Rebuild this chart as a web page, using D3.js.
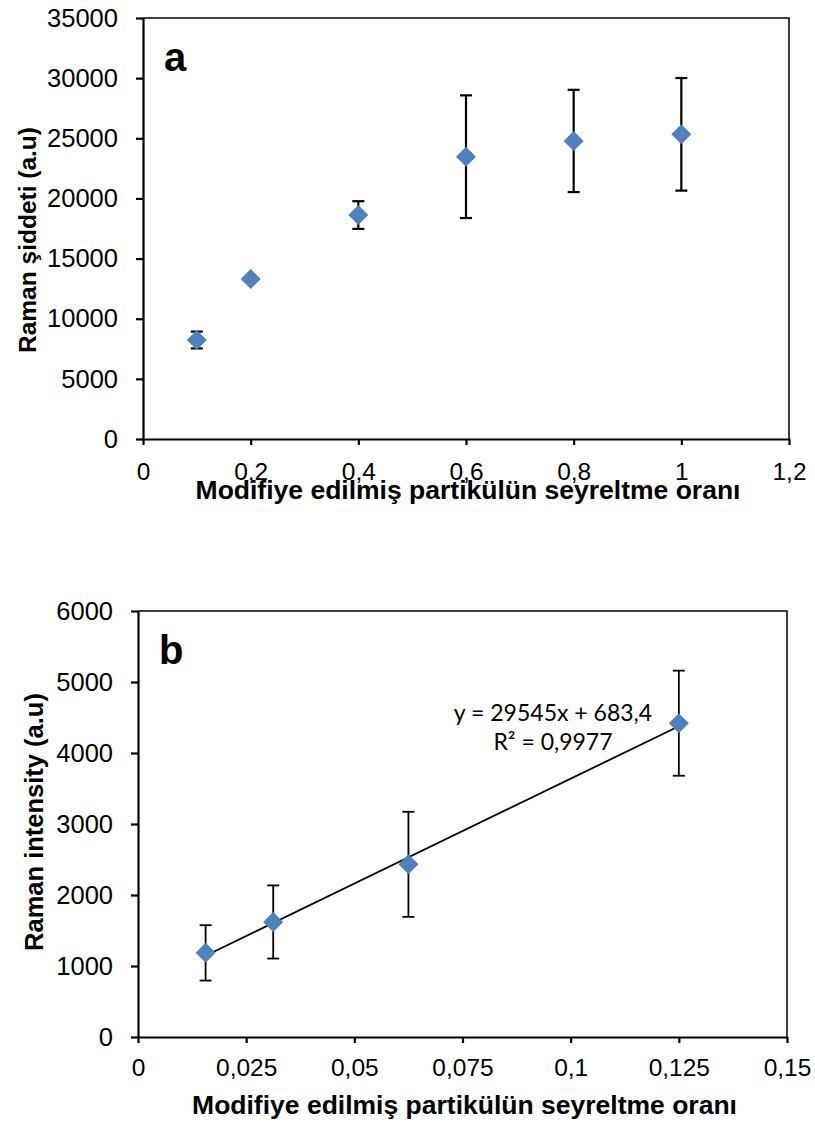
<!DOCTYPE html>
<html>
<head>
<meta charset="utf-8">
<script src="https://cdn.jsdelivr.net/npm/d3@7"></script>
<style>
  body { margin: 0; background: #fff; }
  svg text { font-family: "Liberation Sans", Arial, sans-serif; }
</style>
</head>
<body>
<svg id="chart" width="815" height="1124"></svg>
<script>
// Panel a data
const dilutionA = [0.1, 0.2, 0.4, 0.6, 0.8, 1.0];
const ramanA = [8230, 13300, 18620, 23470, 24780, 25330];
const errA = [700, 0, 1150, 5100, 4250, 4680];
const xTicksA = [0, 0.2, 0.4, 0.6, 0.8, 1.0, 1.2];
const yTicksA = [0, 5000, 10000, 15000, 20000, 25000, 30000, 35000];

// Panel b data
const dilutionB = [0.015625, 0.03125, 0.0625, 0.125];
const ramanB = [1185, 1620, 2432, 4420];
const errB = [390, 515, 740, 740];
const xTicksB = [0, 0.025, 0.05, 0.075, 0.1, 0.125, 0.15];
const yTicksB = [0, 1000, 2000, 3000, 4000, 5000, 6000];
const trendB = {slope: 29545, intercept: 683.4};

const trLocale = d3.formatLocale({decimal: ",", thousands: "", grouping: [3], currency: ["", ""]});
const fmtNum = d => trLocale.format("")(+d.toFixed(4));

const svg = d3.select('#chart');
const markerColor = '#4F81BD';

function drawPanel(cfg) {
    const x = d3.scaleLinear().domain(cfg.xDomain).range([cfg.left, cfg.right]);
    const y = d3.scaleLinear().domain(cfg.yDomain).range([cfg.bottom, cfg.top]);
    const g = svg.append('g');

    // Frame (top and right)
    g.append('path')
        .attr('d', `M${cfg.left},${cfg.top}H${cfg.right}V${cfg.bottom}`)
        .attr('fill', 'none').attr('stroke', '#000').attr('stroke-width', 1.5);

    // Axes
    const xAxis = g.append('g')
        .attr('transform', `translate(0,${cfg.bottom})`)
        .call(d3.axisBottom(x).tickValues(cfg.xTicks).tickFormat(fmtNum).tickSize(6).tickSizeOuter(0));
    const yAxis = g.append('g')
        .attr('transform', `translate(${cfg.left},0)`)
        .call(d3.axisLeft(y).tickValues(cfg.yTicks).tickFormat(d => d).tickSize(7).tickSizeOuter(0));
    [xAxis, yAxis].forEach(a => {
        a.attr('font-size', null).attr('font-family', null);
        a.select('.domain').attr('stroke-width', 2.2);
        a.selectAll('.tick line').attr('stroke-width', 2.2);
        a.selectAll('.tick text')
            .style('font-family', '"Liberation Sans", Arial, sans-serif')
            .attr('fill', '#000');
    });
    xAxis.selectAll('.tick text').style('font-size', '24.5px').attr('y', cfg.xLabelGap);
    yAxis.selectAll('.tick text').style('font-size', '25.5px').attr('x', -25);

    // Trendline
    if (cfg.trend) {
        const xs = d3.extent(cfg.xs);
        g.append('line')
            .attr('x1', x(xs[0])).attr('y1', y(cfg.trend.slope * xs[0] + cfg.trend.intercept))
            .attr('x2', x(xs[1])).attr('y2', y(cfg.trend.slope * xs[1] + cfg.trend.intercept))
            .attr('stroke', '#000').attr('stroke-width', 1.8);
    }

    // Error bars
    const eb = g.selectAll('.err').data(cfg.xs.map((v, i) => ({x: v, y: cfg.ys[i], e: cfg.errs[i]})))
        .enter().append('g').filter(d => d.e > 0);
    eb.append('line')
        .attr('x1', d => x(d.x)).attr('x2', d => x(d.x))
        .attr('y1', d => y(d.y + d.e)).attr('y2', d => y(d.y - d.e))
        .attr('stroke', '#000').attr('stroke-width', cfg.errWidth);
    [1, -1].forEach(s => {
        eb.append('line')
            .attr('x1', d => x(d.x) - 6).attr('x2', d => x(d.x) + 6)
            .attr('y1', d => y(d.y + s * d.e)).attr('y2', d => y(d.y + s * d.e))
            .attr('stroke', '#000').attr('stroke-width', cfg.errWidth);
    });

    // Diamond markers
    g.selectAll('.pt').data(cfg.xs.map((v, i) => ({x: v, y: cfg.ys[i]})))
        .enter().append('path')
        .attr('transform', d => `translate(${x(d.x)},${y(d.y)})`)
        .attr('d', 'M0,-10L10,0L0,10L-10,0Z')
        .attr('fill', markerColor);

    // Panel letter
    g.append('text')
        .attr('x', cfg.left + 21).attr('y', cfg.top + 53)
        .attr('font-size', 40).attr('font-weight', 'bold')
        .text(cfg.letter);

    // Axis titles
    g.append('text')
        .attr('x', (cfg.left + cfg.right) / 2 + 2).attr('y', cfg.bottom + cfg.xTitleGap)
        .attr('text-anchor', 'middle').attr('font-size', 26.5).attr('font-weight', 'bold')
        .text('Modifiye edilmiş partikülün seyreltme oranı');
    g.append('text')
        .attr('transform', `translate(${cfg.yTitleX},${cfg.yTitleY}) rotate(-90)`)
        .attr('text-anchor', 'middle').attr('font-size', cfg.yTitleSize).attr('font-weight', 'bold')
        .text(cfg.yTitle);

    return {x, y, g};
}

drawPanel({
    left: 143, right: 789, top: 18, bottom: 439,
    xDomain: [0, 1.2], yDomain: [0, 35000],
    xTicks: xTicksA, yTicks: yTicksA, xLabelGap: 24, xTitleGap: 60,
    xs: dilutionA, ys: ramanA, errs: errA, errWidth: 2.2,
    letter: 'a', yTitle: 'Raman şiddeti (a.u)', yTitleX: 36, yTitleY: 240, yTitleSize: 24.5
});

const pb = drawPanel({
    left: 138, right: 787, top: 611, bottom: 1037,
    xDomain: [0, 0.15], yDomain: [0, 6000],
    xTicks: xTicksB, yTicks: yTicksB, xLabelGap: 22, xTitleGap: 77,
    xs: dilutionB, ys: ramanB, errs: errB, errWidth: 1.8,
    trend: trendB,
    letter: 'b', yTitle: 'Raman intensity (a.u)', yTitleX: 43, yTitleY: 822, yTitleSize: 25.5
});

// Trendline equation
pb.g.append('text')
    .attr('x', 553).attr('y', 721)
    .attr('text-anchor', 'middle').attr('font-size', 23)
    .style('font-family', 'Lato, "Open Sans", sans-serif')
    .text('y = 29545x + 683,4');
pb.g.append('text')
    .attr('x', 553).attr('y', 750)
    .attr('text-anchor', 'middle').attr('font-size', 23)
    .style('font-family', 'Lato, "Open Sans", sans-serif')
    .text('R² = 0,9977');
</script>
</body>
</html>
